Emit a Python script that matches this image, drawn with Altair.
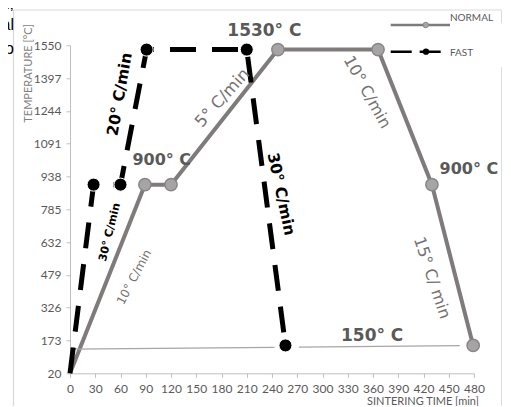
import altair as alt
import pandas as pd

# ---- data ----
NORMAL_T = [0, 89, 120, 247, 366, 430, 479]
NORMAL_C = [20, 900, 900, 1530, 1530, 900, 150]
NORMAL_MARK = [0, 1, 1, 1, 1, 1, 1]

FAST_T = [0, 28, 60, 91, 210, 256]
FAST_C = [20, 900, 900, 1530, 1530, 150]
FAST_MARK = [0, 1, 1, 1, 1, 1]

THIN_T = [0, 243, 272, 463]
THIN_C = [133, 141, 142, 149]
THIN_SEG = [1, 1, 2, 2]

X_TICKS = [0, 30, 60, 90, 120, 150, 180, 210, 240, 270, 300, 330, 360, 390, 420, 450, 480]
Y_TICKS = [20, 173, 326, 479, 632, 785, 938, 1091, 1244, 1397, 1550]

LABEL_TEXT = ["1530° C", "900° C", "900° C", "150° C", "20° C/min", "30° C/min",
              "5° C/min", "10° C/min", "10° C/min", "30° C/min", "15° C/ min"]
LABEL_T = [231, 109, 474, 359, 59, 47.5, 181, 76, 353, 251, 430]
LABEL_C = [1617, 1015, 973, 195, 1322, 678, 1304, 469, 1332, 856, 465]
LABEL_ANGLE = [0, 0, 0, 0, 280, 284, 312, 298, 61, 78, 71.5]
LABEL_SIZE = [17, 16, 16, 17, 15.5, 11, 16.5, 12, 16, 15.5, 16]
LABEL_COLOR = ["#595959", "#595959", "#595959", "#595959", "#000000", "#000000",
               "#767171", "#767171", "#767171", "#000000", "#767171"]
LABEL_BOLD = [1, 1, 1, 1, 1, 1, 0, 0, 0, 1, 0]

FRAG_TEXT = ["n,", "al", "to"]
FRAG_Y = [-36, -15, 9]

GRAY = "#807b7b"
FONT_LBL = "Lato"
FONT_ANN = "DejaVu Sans"

normal = pd.DataFrame({"t": NORMAL_T, "c": NORMAL_C, "m": NORMAL_MARK})
fast = pd.DataFrame({"t": FAST_T, "c": FAST_C, "m": FAST_MARK})
thin = pd.DataFrame({"t": THIN_T, "c": THIN_C, "seg": THIN_SEG})
labels = pd.DataFrame({"text": LABEL_TEXT, "t": LABEL_T, "c": LABEL_C, "angle": LABEL_ANGLE,
                       "size": LABEL_SIZE, "color": LABEL_COLOR, "bold": LABEL_BOLD})
frags = pd.DataFrame({"text": FRAG_TEXT, "y": FRAG_Y})

xs = alt.Scale(domain=[0, 480], nice=False, zero=False)
ys = alt.Scale(domain=[20, 1550], nice=False, zero=False)

X = alt.X("t:Q", scale=xs, axis=alt.Axis(values=X_TICKS, title=None, grid=False, format="d",
          labelOverlap=False, domainColor="#bfbfbf", tickColor="#bfbfbf", tickSize=4,
          labelPadding=6, labelColor="#595959", labelFont=FONT_LBL, labelFontSize=12,
          labelFlush=False))
Y = alt.Y("c:Q", scale=ys, axis=alt.Axis(values=Y_TICKS, title=None, grid=False, format="d",
          labelOverlap=False, domainColor="#bfbfbf", tickColor="#bfbfbf", tickSize=4,
          labelPadding=5, labelColor="#595959", labelFont=FONT_LBL, labelFontSize=12,
          labelFlush=False))

base_n = alt.Chart(normal)
base_f = alt.Chart(fast)

thin_line = alt.Chart(thin).mark_line(color="#a6a6a6", strokeWidth=1.2).encode(
    x=X, y=Y, detail="seg:N")

n_line = base_n.mark_line(color=GRAY, strokeWidth=4).encode(x=X, y=Y)
n_pts = base_n.transform_filter("datum.m == 1").mark_point(
    filled=True, fill="#a5a5a5", stroke="#8a8686", strokeWidth=1.5, size=150, opacity=1
).encode(x=X, y=Y)

f_line = base_f.mark_line(color="#000000", strokeWidth=5, strokeDash=[26, 16]).encode(x=X, y=Y)
f_pts = base_f.transform_filter("datum.m == 1").mark_point(
    filled=True, fill="#000000", stroke="#ffffff", strokeWidth=1, size=170, opacity=1
).encode(x=X, y=Y)

def ann(bold):
    return alt.Chart(labels).transform_filter(f"datum.bold == {bold}").mark_text(
        font=FONT_ANN, fontWeight="bold" if bold else "normal", align="center", baseline="middle"
    ).encode(
        x=X, y=Y, text="text:N",
        angle=alt.Angle("angle:Q", scale=None), size=alt.Size("size:Q", scale=None, legend=None),
        color=alt.Color("color:N", scale=None))

ann_b = ann(1)
ann_n = ann(0)

# axis titles
ytitle = alt.Chart(pd.DataFrame({"s": ["TEMPERATURE [°C]"]})).mark_text(
    font=FONT_LBL, fontSize=11, color="#7f7f7f", angle=270, align="center", baseline="middle"
).encode(text="s:N", x=alt.value(-41), y=alt.value(28))
xtitle = alt.Chart(pd.DataFrame({"s": ["SINTERING TIME [min]"]})).mark_text(
    font=FONT_LBL, fontSize=11, color="#595959", align="center", baseline="middle"
).encode(text="s:N", x=alt.value(353), y=alt.value(357))

# fragments of surrounding text at left edge
frag = alt.Chart(frags).mark_text(font="Liberation Sans", fontSize=16, color="#000000",
                                  align="right", baseline="alphabetic").encode(
    text="text:N", x=alt.value(-56), y=alt.Y("y:Q", scale=None))

# frame
frame_c = "#d9d9d9"
one = pd.DataFrame({"a": [0]})
f_top = alt.Chart(one).mark_rule(color=frame_c, strokeWidth=1.2).encode(
    x=alt.value(-56.5), x2=alt.value(431.7), y=alt.value(-35.3))
f_left = alt.Chart(one).mark_rule(color=frame_c, strokeWidth=1.2).encode(
    x=alt.value(-56.5), y=alt.value(-35.3), y2=alt.value(370))
f_right1 = alt.Chart(one).mark_rule(color=frame_c, strokeWidth=1.2).encode(
    x=alt.value(431.7), y=alt.value(-35.3), y2=alt.value(-22))
f_right2 = alt.Chart(one).mark_rule(color=frame_c, strokeWidth=1.2).encode(
    x=alt.value(431.7), y=alt.value(22), y2=alt.value(370))

# legend
lg_n_line = alt.Chart(one).mark_rule(color=GRAY, strokeWidth=2.5).encode(
    x=alt.value(320.7), x2=alt.value(380), y=alt.value(-20.3))
lg_n_pt = alt.Chart(one).mark_point(filled=True, fill="#a5a5a5", stroke="#8a8686",
                                     strokeWidth=1, size=30, opacity=1).encode(
    x=alt.value(355.7), y=alt.value(-20.3))
lg_f_line = alt.Chart(one).mark_rule(color="#000000", strokeWidth=2.5, strokeDash=[21, 8]).encode(
    x=alt.value(320.7), x2=alt.value(371.7), y=alt.value(6.4))
lg_f_pt = alt.Chart(one).mark_point(filled=True, fill="#000000", size=40, opacity=1).encode(
    x=alt.value(356), y=alt.value(6.4))
lg_txt = alt.Chart(pd.DataFrame({"s": ["NORMAL", "FAST"], "y": [-27, 7.4]})).mark_text(
    font=FONT_LBL, fontSize=10, color="#595959", align="left", baseline="middle").encode(
    text="s:N", x=alt.value(380), y=alt.Y("y:Q", scale=None))

chart = alt.layer(
    n_line, thin_line, f_line, n_pts, f_pts, ann_b, ann_n,
    f_top, f_left, f_right1, f_right2,
    ytitle, xtitle, frag,
    lg_n_line, lg_n_pt, lg_f_line, lg_f_pt, lg_txt,
).properties(
    width=404, height=328,
    autosize=alt.AutoSizeParams(type="none"),
    padding={"left": 62, "top": 37.3, "right": 28, "bottom": 33},
).configure_view(stroke=None).configure_axis(labelOverlap=False)

chart.save("out.html", embed_options={"renderer": "svg", "actions": False})
